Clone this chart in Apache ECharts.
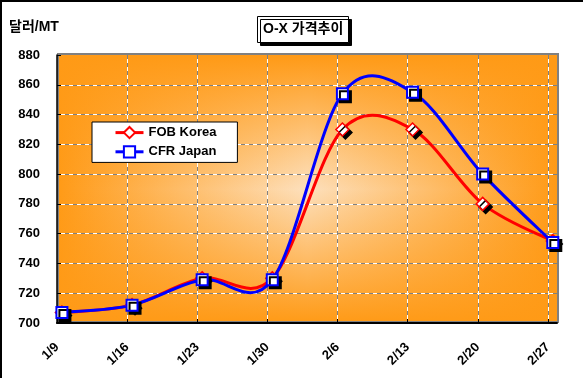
<!DOCTYPE html>
<html>
<head>
<meta charset="utf-8">
<script src="https://cdn.jsdelivr.net/npm/echarts@6/dist/echarts.min.js"></script>
<style>
html, body { margin: 0; padding: 0; background: #fff; }
#main { width: 583px; height: 378px; }
</style>
</head>
<body>
<div id="main"></div>
<script>
// 데이터
var dates = ['1/9', '1/16', '1/23', '1/30', '2/6', '2/13', '2/20', '2/27'];
var fobKorea = [707, 712, 730, 730, 830, 830, 780, 755];
var cfrJapan = [707, 712, 729, 729, 854, 855, 800, 754];
var yMin = 700, yMax = 880, yStep = 20;

// 점은 눈금보다 약간 오른쪽에 찍힘 (엑셀 원본과 같이)
var POINT_SHIFT = 0.07;
var X_MAX = 7.13;

var FONT = "'Liberation Sans', 'Noto Sans CJK KR', sans-serif";

var chart = echarts.init(document.getElementById('main'));

function toPoints(arr) {
    return arr.map(function (v, i) { return [i + POINT_SHIFT, v]; });
}

// 엑셀식 부드러운 선 (catmull-rom -> bezier), 좌표는 api.coord 로 변환
function smoothCurve(arr, color) {
    return function (params, api) {
        if (params.dataIndex !== 0) return null;
        var p = arr.map(function (v, i) { return api.coord([i + POINT_SHIFT, v]); });
        var n = p.length;
        var d = 'M' + p[0][0] + ' ' + p[0][1];
        for (var i = 0; i < n - 1; i++) {
            var p0 = p[Math.max(i - 1, 0)], p1 = p[i], p2 = p[i + 1], p3 = p[Math.min(i + 2, n - 1)];
            var c1x = p1[0] + (p2[0] - p0[0]) / 6, c1y = p1[1] + (p2[1] - p0[1]) / 6;
            var c2x = p2[0] - (p3[0] - p1[0]) / 6, c2y = p2[1] - (p3[1] - p1[1]) / 6;
            d += ' C' + c1x + ' ' + c1y + ' ' + c2x + ' ' + c2y + ' ' + p2[0] + ' ' + p2[1];
        }
        return {
            type: 'path',
            shape: { pathData: d },
            style: { fill: 'none', stroke: color, lineWidth: 3 }
        };
    };
}

// 플롯 영역 위치
var G = { left: 57, top: 55, width: 500, height: 268 };

var option = {
    animation: false,
    textStyle: { fontFamily: FONT },
    title: [{
        text: 'O-X 가격추이',
        left: 257,
        top: 16,
        padding: [5, 5, 5, 6],
        backgroundColor: '#fff',
        borderColor: '#000',
        borderWidth: 1,
        shadowColor: '#000',
        shadowBlur: 0,
        shadowOffsetX: 3,
        shadowOffsetY: 3,
        textStyle: { fontFamily: FONT, fontSize: 14, fontWeight: 'bold', color: '#000', lineHeight: 17 }
    }, {
        text: '달러/MT',
        left: 9,
        top: 20,
        padding: 0,
        textStyle: { fontFamily: FONT, fontSize: 14, fontWeight: 'bold', color: '#000' }
    }],
    legend: {
        orient: 'vertical',
        left: 92,
        top: 122,
        itemWidth: 28,
        itemHeight: 14,
        itemGap: 6,
        padding: [4, 21, 4, 22],
        backgroundColor: '#fff',
        borderColor: '#000',
        borderWidth: 1,
        itemStyle: { shadowBlur: 0, shadowOffsetX: 0, shadowOffsetY: 0, shadowColor: 'rgba(0,0,0,0)' },
        lineStyle: { opacity: 1, width: 3 },
        textStyle: { fontFamily: FONT, fontSize: 13, fontWeight: 'bold', color: '#000' },
        data: ['FOB Korea', 'CFR Japan']
    },
    grid: { left: G.left, top: G.top, right: 26, bottom: 55, containLabel: false },
    graphic: [
        // 바깥 테두리
        { type: 'rect', z: -5, shape: { x: 1, y: 1, width: 700, height: 500 },
          style: { fill: 'none', stroke: '#000', lineWidth: 2 } },
        // 플롯 영역 배경 (가운데 밝은 주황)
        { type: 'rect', z: -4, shape: { x: G.left, y: G.top, width: G.width, height: G.height },
          style: { fill: new echarts.graphic.LinearGradient(0, 0, 1, 0, [
              { offset: 0, color: '#ff9a16' },
              { offset: 0.5, color: '#fde0bd' },
              { offset: 1, color: '#ff9a16' }
          ]) } },
        { type: 'rect', z: -3, shape: { x: G.left, y: G.top, width: G.width, height: G.height },
          style: { fill: new echarts.graphic.LinearGradient(0, 0, 0, 1, [
              { offset: 0, color: 'rgba(255,154,22,1)' },
              { offset: 0.5, color: 'rgba(255,154,22,0)' },
              { offset: 1, color: 'rgba(255,154,22,1)' }
          ]) } },
        { type: 'rect', z: -2, shape: { x: G.left + 1, y: G.top - 1, width: G.width, height: G.height },
          style: { fill: 'none', stroke: '#808080', lineWidth: 2 } }
    ],
    xAxis: [{
        type: 'value',
        min: 0,
        max: X_MAX,
        interval: 1,
        axisLine: { show: true, lineStyle: { color: '#000', width: 2 } },
        axisTick: { show: true, inside: true, length: 4, lineStyle: { color: '#000' } },
        axisLabel: {
            rotate: 45,
            margin: 22,
            fontFamily: FONT,
            fontSize: 13,
            fontWeight: 'bold',
            color: '#000',
            showMaxLabel: false,
            formatter: function (v) {
                var r = Math.round(v);
                return Math.abs(v - r) < 1e-6 && dates[r] ? dates[r] : '';
            }
        },
        splitLine: {
            show: true, showMinLine: false, showMaxLine: false,
            lineStyle: { color: '#808080', width: 1, type: [4, 4] }
        }
    }, {
        type: 'value',
        min: 0,
        max: X_MAX,
        interval: 1,
        position: 'bottom',
        axisLine: { show: false },
        axisTick: { show: false },
        axisLabel: { show: false },
        splitLine: {
            show: true, showMinLine: false, showMaxLine: false,
            lineStyle: { color: '#fff', width: 1, type: [4, 4], dashOffset: 4 }
        }
    }],
    yAxis: [{
        type: 'value',
        min: yMin,
        max: yMax,
        interval: yStep,
        axisLine: { show: true, lineStyle: { color: '#000', width: 1.5 } },
        axisTick: { show: true, inside: true, length: 4, lineStyle: { color: '#000' } },
        axisLabel: { margin: 17, fontFamily: FONT, fontSize: 13, fontWeight: 'bold', color: '#000' },
        splitLine: {
            show: true, showMinLine: false, showMaxLine: false,
            lineStyle: { color: '#808080', width: 1, type: [4, 4] }
        }
    }, {
        type: 'value',
        min: yMin,
        max: yMax,
        interval: yStep,
        position: 'left',
        axisLine: { show: false },
        axisTick: { show: false },
        axisLabel: { show: false },
        splitLine: {
            show: true, showMinLine: false, showMaxLine: false,
            lineStyle: { color: '#fff', width: 1, type: [4, 4], dashOffset: 4 }
        }
    }],
    series: [{
        name: 'FOB Korea',
        type: 'line',
        z: 3,
        data: toPoints(fobKorea),
        symbol: 'diamond',
        symbolSize: 13,
        showAllSymbol: true,
        lineStyle: { color: '#ff0000', width: 3, opacity: 0 },
        itemStyle: {
            color: '#fff', borderColor: '#ff0000', borderWidth: 1.5,
            shadowColor: '#000', shadowBlur: 0, shadowOffsetX: 3, shadowOffsetY: 3
        }
    }, {
        name: 'CFR Japan',
        type: 'line',
        z: 4,
        data: toPoints(cfrJapan),
        symbol: 'rect',
        symbolSize: 11,
        showAllSymbol: true,
        lineStyle: { color: '#0000ff', width: 3, opacity: 0 },
        itemStyle: {
            color: '#fff', borderColor: '#0000ff', borderWidth: 2,
            shadowColor: '#000', shadowBlur: 0, shadowOffsetX: 3, shadowOffsetY: 3
        }
    }, {
        name: 'FOB Korea',
        type: 'custom',
        z: 1,
        silent: true,
        data: toPoints(fobKorea),
        renderItem: smoothCurve(fobKorea, '#ff0000')
    }, {
        name: 'CFR Japan',
        type: 'custom',
        z: 2,
        silent: true,
        data: toPoints(cfrJapan),
        renderItem: smoothCurve(cfrJapan, '#0000ff')
    }]
};

chart.setOption(option);
</script>
</body>
</html>
